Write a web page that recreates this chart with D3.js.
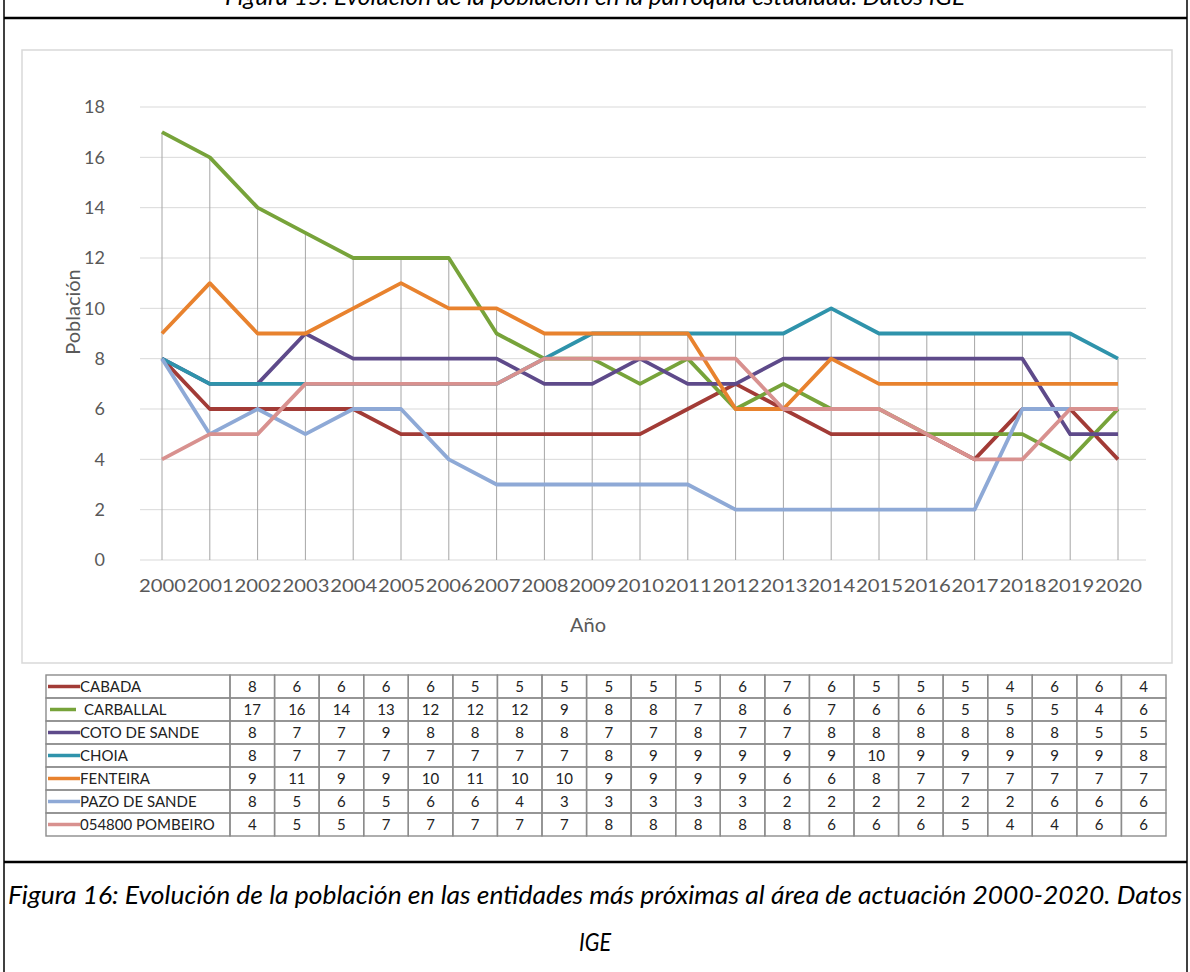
<!DOCTYPE html>
<html><head><meta charset="utf-8">
<script src="https://cdn.jsdelivr.net/npm/d3@7/dist/d3.min.js"></script>
<style>
html,body{margin:0;padding:0;background:#fff;}
svg{display:block;}
</style></head>
<body>
<svg id="chart" width="1190" height="972"></svg>
<script>
const years = ["2000","2001","2002","2003","2004","2005","2006","2007","2008","2009","2010","2011","2012","2013","2014","2015","2016","2017","2018","2019","2020"];
const seriesNames = ["CABADA"," CARBALLAL","COTO DE SANDE","CHOIA","FENTEIRA","PAZO DE SANDE","054800 POMBEIRO"];
const cabada     = [8,6,6,6,6,5,5,5,5,5,5,6,7,6,5,5,5,4,6,6,4];
const carballal  = [17,16,14,13,12,12,12,9,8,8,7,8,6,7,6,6,5,5,5,4,6];
const cotoDeSande= [8,7,7,9,8,8,8,8,7,7,8,7,7,8,8,8,8,8,8,5,5];
const choia      = [8,7,7,7,7,7,7,7,8,9,9,9,9,9,10,9,9,9,9,9,8];
const fenteira   = [9,11,9,9,10,11,10,10,9,9,9,9,6,6,8,7,7,7,7,7,7];
const pazoDeSande= [8,5,6,5,6,6,4,3,3,3,3,3,2,2,2,2,2,2,6,6,6];
const pombeiro   = [4,5,5,7,7,7,7,7,8,8,8,8,8,6,6,6,5,4,4,6,6];
const yTicks = [0,2,4,6,8,10,12,14,16,18];
const colors = ["#A23B36","#77A33A","#5E4A8A","#2F93AB","#E8822E","#8EA9D6","#D8918F"];
const topCaption = "Figura 15: Evolución de la población en la parroquia estudiada. Datos IGE";
const captionLine1 = "Figura 16: Evolución de la población en las entidades más próximas al área de actuación 2000-2020. Datos";
const captionLine2 = "IGE";
const yTitle = "Población";
const xTitle = "Año";

const seriesValues = [cabada, carballal, cotoDeSande, choia, fenteira, pazoDeSande, pombeiro];
const series = seriesNames.map((n,i)=>({name:n, values:seriesValues[i], color:colors[i]}));

const svg = d3.select("#chart");
const FONT = "Lato, Carlito, 'Open Sans', sans-serif";

// Outer frame
svg.append("line").attr("x1",4).attr("x2",4).attr("y1",0).attr("y2",972).attr("stroke","#000").attr("stroke-width",1.5);
svg.append("line").attr("x1",1187).attr("x2",1187).attr("y1",0).attr("y2",972).attr("stroke","#000").attr("stroke-width",1.5);
svg.append("line").attr("x1",4).attr("x2",1187).attr("y1",18).attr("y2",18).attr("stroke","#000").attr("stroke-width",2.5);
svg.append("line").attr("x1",4).attr("x2",1187).attr("y1",862).attr("y2",862).attr("stroke","#000").attr("stroke-width",2.5);

// top caption (cut off at the page edge, as in the source)
svg.append("text").attr("x",595).attr("y",5).attr("text-anchor","middle")
  .attr("font-family",FONT).attr("font-style","italic").attr("font-size",24).attr("fill","#000")
  .attr("textLength",740).attr("lengthAdjust","spacingAndGlyphs").text(topCaption);

// bottom caption
svg.append("text").attr("x",595).attr("y",904).attr("text-anchor","middle")
  .attr("font-family",FONT).attr("font-style","italic").attr("font-size",25).attr("fill","#000")
  .attr("textLength",1174).attr("lengthAdjust","spacingAndGlyphs").text(captionLine1);
svg.append("text").attr("x",595).attr("y",951).attr("text-anchor","middle")
  .attr("font-family",FONT).attr("font-style","italic").attr("font-size",25).attr("fill","#000")
  .attr("textLength",32).attr("lengthAdjust","spacingAndGlyphs").text(captionLine2);

// Chart area box
svg.append("rect").attr("x",22).attr("y",50).attr("width",1150).attr("height",613)
  .attr("fill","#fff").attr("stroke","#D9D9D9").attr("stroke-width",1.5);

// Scales
const x = d3.scalePoint().domain(years).range([162,1118]);
const y = d3.scaleLinear().domain([0,18]).range([560,107]);

// gridlines
const g = svg.append("g");
g.selectAll("line.grid").data(yTicks).join("line").attr("class","grid")
  .attr("x1",140).attr("x2",1146).attr("y1",d=>y(d)).attr("y2",d=>y(d))
  .attr("stroke","#D9D9D9").attr("stroke-width",1);

// drop lines
g.selectAll("line.drop").data(years).join("line").attr("class","drop")
  .attr("x1",d=>x(d)).attr("x2",d=>x(d))
  .attr("y1",(d,i)=>y(d3.max(seriesValues,s=>s[i]))).attr("y2",y(0))
  .attr("stroke","#A6A6A6").attr("stroke-width",1);

// axes
const yAxis = d3.axisLeft(y).tickValues(yTicks).tickSize(0).tickPadding(0);
const ya = svg.append("g").attr("transform","translate(105,0)").call(yAxis);
ya.select(".domain").remove();
ya.selectAll("text").attr("font-family",FONT).attr("font-size",18).attr("fill","#595959");

const xAxis = d3.axisBottom(x).tickSize(0).tickPadding(0);
const xa = svg.append("g").attr("transform","translate(0,578)").call(xAxis);
xa.select(".domain").remove();
xa.selectAll("text").attr("font-family",FONT).attr("font-size",18).attr("fill","#595959")
  .attr("dy","0.75em").attr("textLength",47).attr("lengthAdjust","spacingAndGlyphs");

svg.append("text").attr("transform","translate(80,312) rotate(-90)").attr("text-anchor","middle")
  .attr("font-family",FONT).attr("font-size",20).attr("fill","#595959").text(yTitle);
svg.append("text").attr("x",588).attr("y",632).attr("text-anchor","middle")
  .attr("font-family",FONT).attr("font-size",20).attr("fill","#595959").text(xTitle);

// lines
const line = d3.line().x((d,i)=>x(years[i])).y(d=>y(d));
svg.append("g").selectAll("path").data(series).join("path")
  .attr("d",d=>line(d.values)).attr("fill","none").attr("stroke",d=>d.color)
  .attr("stroke-width",3.8).attr("stroke-linejoin","round").attr("stroke-linecap","butt");

// Data table
const tLeft = 46, tLabelRight = 230, tRight = 1166, tTop = 675, rowH = 23;
const cx = d3.scaleBand().domain(years).range([tLabelRight,tRight]);
const ry = d3.scaleBand().domain(seriesNames).range([tTop, tTop + rowH*seriesNames.length]);
const tg = svg.append("g");
series.forEach(s=>{
  tg.append("rect").attr("x",tLeft).attr("y",ry(s.name)).attr("width",tLabelRight-tLeft).attr("height",ry.bandwidth())
    .attr("fill","none").attr("stroke","#8C8C8C").attr("stroke-width",1.4);
  years.forEach((yr,i)=>{
    tg.append("rect").attr("x",cx(yr)).attr("y",ry(s.name)).attr("width",cx.bandwidth()).attr("height",ry.bandwidth())
      .attr("fill","none").attr("stroke","#8C8C8C").attr("stroke-width",1.4);
    tg.append("text").attr("x",cx(yr)+cx.bandwidth()/2).attr("y",ry(s.name)+ry.bandwidth()/2+5)
      .attr("text-anchor","middle").attr("font-family",FONT).attr("font-size",15).attr("fill","#222")
      .text(s.values[i]);
  });
  const isSpaced = s.name.startsWith(" ");
  tg.append("line").attr("x1",isSpaced?50:48).attr("x2",isSpaced?76:80)
    .attr("y1",ry(s.name)+ry.bandwidth()/2).attr("y2",ry(s.name)+ry.bandwidth()/2)
    .attr("stroke",s.color).attr("stroke-width",3.5);
  tg.append("text").attr("x",isSpaced?84:80).attr("y",ry(s.name)+ry.bandwidth()/2+5)
    .attr("font-family",FONT).attr("font-size",15).attr("fill","#222").text(s.name.trim());
});
</script>
</body></html>
